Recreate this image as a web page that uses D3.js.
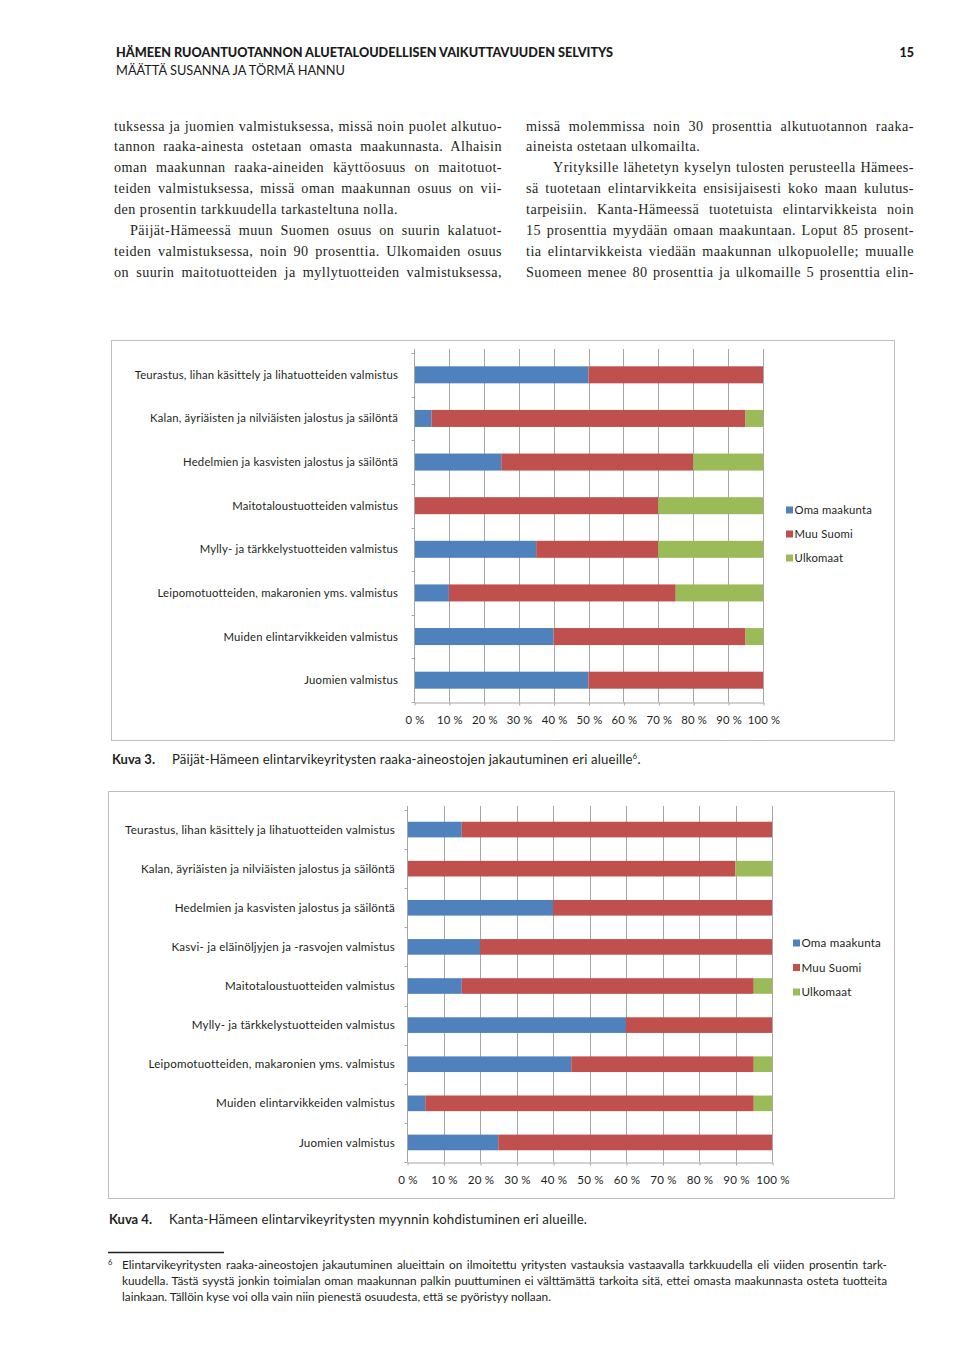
<!DOCTYPE html>
<html>
<head>
<meta charset="utf-8">
<script src="https://cdn.jsdelivr.net/npm/d3@7"></script>
<style>
html,body{margin:0;padding:0;background:#fff;}
svg{display:block;}
</style>
</head>
<body>
<svg id="page" width="960" height="1358"></svg>
<script>
// ---------- DATA ----------
const seriesNames = ["Oma maakunta", "Muu Suomi", "Ulkomaat"];
const tickLabels = ["0 %", "10 %", "20 %", "30 %", "40 %", "50 %", "60 %", "70 %", "80 %", "90 %", "100 %"];
const tickValues = [0, 10, 20, 30, 40, 50, 60, 70, 80, 90, 100];

const categories1 = [
  "Teurastus, lihan käsittely ja lihatuotteiden valmistus",
  "Kalan, äyriäisten ja nilviäisten jalostus ja säilöntä",
  "Hedelmien ja kasvisten jalostus ja säilöntä",
  "Maitotaloustuotteiden valmistus",
  "Mylly- ja tärkkelystuotteiden valmistus",
  "Leipomotuotteiden, makaronien yms. valmistus",
  "Muiden elintarvikkeiden valmistus",
  "Juomien valmistus"
];
const oma1  = [50, 5, 25, 0, 35, 10, 40, 50];
const muu1  = [50, 90, 55, 70, 35, 65, 55, 50];
const ulko1 = [0, 5, 20, 30, 30, 25, 5, 0];

const categories2 = [
  "Teurastus, lihan käsittely ja lihatuotteiden valmistus",
  "Kalan, äyriäisten ja nilviäisten jalostus ja säilöntä",
  "Hedelmien ja kasvisten jalostus ja säilöntä",
  "Kasvi- ja eläinöljyjen ja -rasvojen valmistus",
  "Maitotaloustuotteiden valmistus",
  "Mylly- ja tärkkelystuotteiden valmistus",
  "Leipomotuotteiden, makaronien yms. valmistus",
  "Muiden elintarvikkeiden valmistus",
  "Juomien valmistus"
];
const oma2  = [15, 0, 40, 20, 15, 60, 45, 5, 25];
const muu2  = [85, 90, 60, 80, 80, 40, 50, 90, 75];
const ulko2 = [0, 10, 0, 0, 5, 0, 5, 5, 0];

const headerTitle = "HÄMEEN RUOANTUOTANNON ALUETALOUDELLISEN VAIKUTTAVUUDEN SELVITYS";
const headerAuthors = "MÄÄTTÄ SUSANNA JA TÖRMÄ HANNU";
const pageNumber = "15";

const leftColumn = [
  ["tuksessa ja juomien valmistuksessa, missä noin puolet alkutuo-", "j"],
  ["tannon raaka-ainesta ostetaan omasta maakunnasta. Alhaisin", "j"],
  ["oman maakunnan raaka-aineiden käyttöosuus on maitotuot-", "j"],
  ["teiden valmistuksessa, missä oman maakunnan osuus on vii-", "j"],
  ["den prosentin tarkkuudella tarkasteltuna nolla.", "l"],
  ["Päijät-Hämeessä muun Suomen osuus on suurin kalatuot-", "ji"],
  ["teiden valmistuksessa, noin 90 prosenttia. Ulkomaiden osuus", "j"],
  ["on suurin maitotuotteiden ja myllytuotteiden valmistuksessa,", "j"]
];
const rightColumn = [
  ["missä molemmissa noin 30 prosenttia alkutuotannon raaka-", "j"],
  ["aineista ostetaan ulkomailta.", "l"],
  ["Yrityksille lähetetyn kyselyn tulosten perusteella Hämees-", "ji"],
  ["sä tuotetaan elintarvikkeita ensisijaisesti koko maan kulutus-", "j"],
  ["tarpeisiin. Kanta-Hämeessä tuotetuista elintarvikkeista noin", "j"],
  ["15 prosenttia myydään omaan maakuntaan. Loput 85 prosent-", "j"],
  ["tia elintarvikkeista viedään maakunnan ulkopuolelle; muualle", "j"],
  ["Suomeen menee 80 prosenttia ja ulkomaille 5 prosenttia elin-", "j"]
];
const caption1Label = "Kuva 3.";
const caption1Text = "Päijät-Hämeen elintarvikeyritysten raaka-aineostojen jakautuminen eri alueille";
const caption2Label = "Kuva 4.";
const caption2Text = "Kanta-Hämeen elintarvikeyritysten myynnin kohdistuminen eri alueille.";
const footnoteMark = "6";
const footnoteLines = [
  ["Elintarvikeyritysten raaka-aineostojen jakautuminen alueittain on ilmoitettu yritysten vastauksia vastaavalla tarkkuudella eli viiden prosentin tark-", "j"],
  ["kuudella. Tästä syystä jonkin toimialan oman maakunnan palkin puuttuminen ei välttämättä tarkoita sitä, ettei omasta maakunnasta osteta tuotteita", "j"],
  ["lainkaan. Tällöin kyse voi olla vain niin pienestä osuudesta, että se pyöristyy nollaan.", "l"]
];

// ---------- STYLE ----------
const colors = ["#4F81BD", "#C0504D", "#9BBB59"];
const sansFont = "Lato, 'Open Sans', sans-serif";
const serifFont = "'Liberation Serif', 'DejaVu Serif', serif";
const gridColor = "#A6A6A6";
const textColor = "#231f20";

const svg = d3.select("#page");

// justify helper
function justify(sel, width) {
  const node = sel.node();
  const natural = node.getComputedTextLength();
  const text = sel.text();
  const spaces = (text.match(/ /g) || []).length;
  if (natural < width && spaces > 0) {
    sel.attr("word-spacing", (width - natural) / spaces);
  } else if (natural > width) {
    sel.attr("textLength", width).attr("lengthAdjust", "spacingAndGlyphs");
  }
}
function fitWidth(sel, width) {
  sel.attr("textLength", width).attr("lengthAdjust", "spacingAndGlyphs");
}

// ---------- HEADER ----------
fitWidth(svg.append("text").attr("x", 116).attr("y", 56.5)
  .attr("font-family", sansFont).attr("font-weight", 900).attr("font-size", 13)
  .attr("fill", "#1a1a1a").text(headerTitle), 497);
fitWidth(svg.append("text").attr("x", 116).attr("y", 74.5)
  .attr("font-family", sansFont).attr("font-weight", 400).attr("font-size", 13)
  .attr("fill", "#1a1a1a").text(headerAuthors), 229);
svg.append("text").attr("x", 914).attr("y", 56.5).attr("text-anchor", "end")
  .attr("font-family", sansFont).attr("font-weight", 900).attr("font-size", 12.5)
  .attr("fill", "#1a1a1a").text(pageNumber);

// ---------- BODY TEXT ----------
function drawColumn(lines, x0, x1, indent) {
  lines.forEach((ln, i) => {
    const [txt, mode] = ln;
    const xs = mode === "ji" ? x0 + indent : x0;
    const t = svg.append("text").attr("x", xs).attr("y", 130.5 + i * 20.95)
      .attr("font-family", serifFont).attr("font-size", 14.2).attr("letter-spacing", 0.45)
      .attr("fill", textColor)
      .text(txt);
    if (mode[0] === "j") justify(t, x1 - xs);
  });
}
drawColumn(leftColumn, 114, 502, 16);
drawColumn(rightColumn, 526, 914, 27);

// ---------- CHARTS ----------
function drawChart(cfg) {
  const g = svg.append("g");
  g.append("rect").attr("x", cfg.box[0] + 0.5).attr("y", cfg.box[1] + 0.5)
    .attr("width", cfg.box[2]).attr("height", cfg.box[3])
    .attr("fill", "#fff").attr("stroke", "#BFBFBF").attr("stroke-width", 1);

  const rows = cfg.categories.map((c, i) => ({
    cat: c, [seriesNames[0]]: cfg.s[0][i], [seriesNames[1]]: cfg.s[1][i], [seriesNames[2]]: cfg.s[2][i]
  }));
  const stacked = d3.stack().keys(seriesNames)(rows);

  const x = d3.scaleLinear().domain([0, 100]).range([cfg.plot.x0, cfg.plot.x1]);
  const y = d3.scaleBand().domain(cfg.categories).range([cfg.plot.y0, cfg.plot.y1])
    .paddingInner(cfg.pad).paddingOuter(cfg.pad / 2);

  // gridlines
  g.append("g").selectAll("line").data(tickValues.slice(1)).join("line")
    .attr("x1", d => Math.round(x(d)) + 0.5).attr("x2", d => Math.round(x(d)) + 0.5)
    .attr("y1", cfg.plot.y0 - 4).attr("y2", cfg.plot.y1)
    .attr("stroke", gridColor).attr("stroke-width", 1);

  // bars
  g.append("g").selectAll("g").data(stacked).join("g")
    .attr("fill", (d, i) => colors[i])
    .selectAll("rect").data(d => d).join("rect")
    .attr("x", d => x(d[0])).attr("width", d => x(d[1]) - x(d[0]))
    .attr("y", d => y(d.data.cat)).attr("height", y.bandwidth());

  // left axis line + boundary ticks
  const step = y.step();
  const bounds = d3.range(cfg.categories.length + 1).map(i => cfg.plot.y0 + i * step);
  const ax0 = Math.round(x(0)) + 0.5;
  g.append("line").attr("x1", ax0).attr("x2", ax0)
    .attr("y1", cfg.plot.y0 - 4).attr("y2", cfg.plot.y1)
    .attr("stroke", gridColor);
  g.append("g").selectAll("line").data(bounds).join("line")
    .attr("x1", ax0 - 3).attr("x2", ax0)
    .attr("y1", d => Math.round(d) + 0.5).attr("y2", d => Math.round(d) + 0.5)
    .attr("stroke", gridColor);

  // bottom axis
  const axis = d3.axisBottom(x).tickValues(tickValues)
    .tickFormat((d, i) => tickLabels[i]).tickSize(3).tickPadding(cfg.tickPad).tickSizeOuter(0);
  const ag = g.append("g").attr("transform", `translate(0.5,${Math.round(cfg.plot.y1) + 0.5})`).call(axis);
  ag.select(".domain").attr("stroke", gridColor);
  ag.selectAll(".tick line").attr("stroke", gridColor);
  ag.selectAll(".tick text").attr("font-family", sansFont).attr("font-size", cfg.fs)
    .attr("letter-spacing", 0.2).attr("fill", textColor);

  // category labels
  g.append("g").selectAll("text").data(cfg.categories).join("text")
    .attr("x", cfg.labelX).attr("y", d => y(d) + y.bandwidth() / 2)
    .attr("dy", "0.35em").attr("text-anchor", "end")
    .attr("font-family", sansFont).attr("font-size", cfg.fs).attr("letter-spacing", 0.2)
    .attr("fill", textColor)
    .text(d => d);

  // legend
  const lg = g.append("g").selectAll("g").data(seriesNames).join("g")
    .attr("transform", (d, i) => `translate(${cfg.legend.x},${cfg.legend.y + i * cfg.legend.dy})`);
  lg.append("rect").attr("x", 0).attr("y", -3.5).attr("width", 7).attr("height", 7)
    .attr("fill", (d, i) => colors[i]);
  lg.append("text").attr("x", 8.5).attr("y", 0).attr("dy", "0.35em")
    .attr("font-family", sansFont).attr("font-size", cfg.fs).attr("letter-spacing", 0.2)
    .attr("fill", textColor)
    .text(d => d);
}

drawChart({
  box: [111, 340, 783, 400],
  plot: { x0: 414, x1: 763, y0: 353, y1: 702 },
  pad: 0.61,
  categories: categories1,
  s: [oma1, muu1, ulko1],
  labelX: 398,
  tickPad: 10,
  fs: 11.3,
  legend: { x: 786, y: 510, dy: 24 }
});

drawChart({
  box: [108, 791, 786, 407],
  plot: { x0: 407, x1: 772, y0: 810, y1: 1162 },
  pad: 0.6,
  categories: categories2,
  s: [oma2, muu2, ulko2],
  labelX: 395,
  tickPad: 10,
  fs: 11.6,
  legend: { x: 793, y: 943, dy: 24.5 }
});

// ---------- CAPTIONS ----------
function caption(label, text, x, xt, yb, sup) {
  svg.append("text").attr("x", x).attr("y", yb)
    .attr("font-family", sansFont).attr("font-weight", 700).attr("font-size", 13)
    .attr("fill", textColor).text(label);
  const t = svg.append("text").attr("x", xt).attr("y", yb)
    .attr("font-family", sansFont).attr("font-size", 13.2).attr("letter-spacing", 0.15)
    .attr("fill", textColor);
  t.append("tspan").text(text);
  if (sup) {
    t.append("tspan").attr("dy", -5).attr("font-size", 8).text(sup);
    t.append("tspan").attr("dy", 5).text(".");
  }
}
caption(caption1Label, caption1Text, 112, 172, 763.5, footnoteMark);
caption(caption2Label, caption2Text, 109, 169, 1223.5, null);

// ---------- FOOTNOTE ----------
svg.append("line").attr("x1", 108).attr("x2", 224).attr("y1", 1252.5).attr("y2", 1252.5)
  .attr("stroke", textColor).attr("stroke-width", 1.5);
svg.append("text").attr("x", 108).attr("y", 1265)
  .attr("font-family", sansFont).attr("font-size", 7.5).attr("fill", textColor).text(footnoteMark);
footnoteLines.forEach((ln, i) => {
  const t = svg.append("text").attr("x", 122).attr("y", 1269 + i * 16)
    .attr("font-family", sansFont).attr("font-size", 11.8).attr("fill", textColor).text(ln[0]);
  if (ln[1] === "j") justify(t, 765);
});
</script>
</body>
</html>
